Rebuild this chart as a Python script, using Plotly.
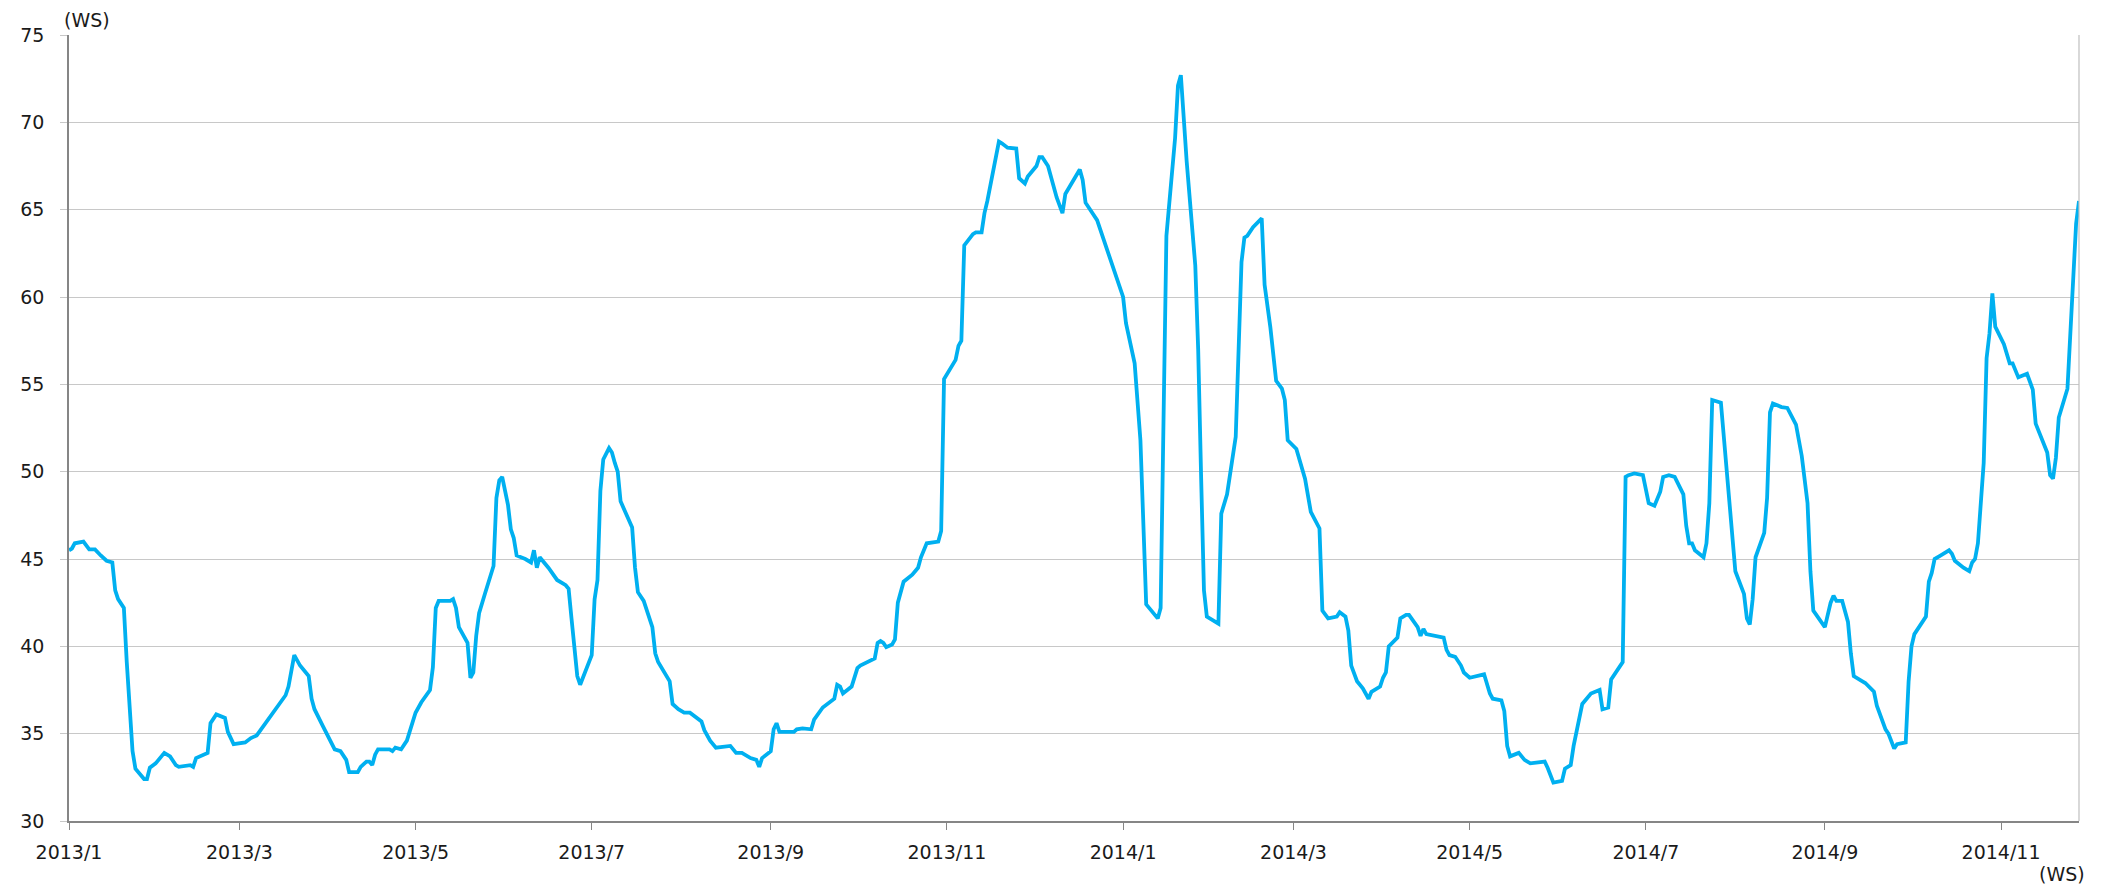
import plotly.graph_objects as go

# ---- data ----
dates_2013 = [
    "2013-01-01", "2013-01-02", "2013-01-03", "2013-01-06", "2013-01-08", "2013-01-10", "2013-01-12",
    "2013-01-14", "2013-01-16", "2013-01-17", "2013-01-18", "2013-01-20", "2013-01-21", "2013-01-22",
    "2013-01-23", "2013-01-24", "2013-01-27", "2013-01-28", "2013-01-29", "2013-01-31", "2013-02-01",
    "2013-02-03", "2013-02-05", "2013-02-07", "2013-02-08", "2013-02-11", "2013-02-12", "2013-02-13",
    "2013-02-14", "2013-02-18", "2013-02-19", "2013-02-21", "2013-02-24", "2013-02-25", "2013-02-26",
    "2013-02-27", "2013-03-03", "2013-03-05", "2013-03-07", "2013-03-11", "2013-03-12", "2013-03-14",
    "2013-03-17", "2013-03-18", "2013-03-20", "2013-03-22", "2013-03-25", "2013-03-26", "2013-03-27",
    "2013-03-30", "2013-04-02", "2013-04-03", "2013-04-05", "2013-04-07", "2013-04-08", "2013-04-11",
    "2013-04-12", "2013-04-14", "2013-04-15", "2013-04-16", "2013-04-17", "2013-04-18", "2013-04-22",
    "2013-04-23", "2013-04-24", "2013-04-26", "2013-04-28", "2013-04-30", "2013-05-01", "2013-05-03",
    "2013-05-06", "2013-05-07", "2013-05-08", "2013-05-09", "2013-05-13", "2013-05-14", "2013-05-15",
    "2013-05-16", "2013-05-19", "2013-05-20", "2013-05-21", "2013-05-22", "2013-05-23", "2013-05-25",
    "2013-05-28", "2013-05-29", "2013-05-30", "2013-05-31", "2013-06-02", "2013-06-03", "2013-06-04",
    "2013-06-05", "2013-06-08", "2013-06-10", "2013-06-11", "2013-06-12", "2013-06-13", "2013-06-16",
    "2013-06-18", "2013-06-19", "2013-06-22", "2013-06-23", "2013-06-24", "2013-06-26", "2013-06-27",
    "2013-07-01", "2013-07-02", "2013-07-03", "2013-07-04", "2013-07-05", "2013-07-07", "2013-07-08",
    "2013-07-09", "2013-07-10", "2013-07-11", "2013-07-15", "2013-07-16", "2013-07-17", "2013-07-19",
    "2013-07-22", "2013-07-23", "2013-07-24", "2013-07-28", "2013-07-29", "2013-07-31", "2013-08-02",
    "2013-08-04", "2013-08-06", "2013-08-08", "2013-08-09", "2013-08-11", "2013-08-13", "2013-08-18",
    "2013-08-19", "2013-08-20", "2013-08-22", "2013-08-25", "2013-08-27", "2013-08-28", "2013-08-29",
    "2013-09-01", "2013-09-02", "2013-09-03", "2013-09-04", "2013-09-09", "2013-09-10", "2013-09-12",
    "2013-09-15", "2013-09-16", "2013-09-19", "2013-09-23", "2013-09-24", "2013-09-25", "2013-09-26",
    "2013-09-29", "2013-10-01", "2013-10-02", "2013-10-07", "2013-10-08", "2013-10-09", "2013-10-10",
    "2013-10-11", "2013-10-13", "2013-10-14", "2013-10-15", "2013-10-17", "2013-10-20", "2013-10-22",
    "2013-10-23", "2013-10-25", "2013-10-29", "2013-10-30", "2013-10-31", "2013-11-04", "2013-11-05",
    "2013-11-06", "2013-11-07", "2013-11-10", "2013-11-11", "2013-11-13", "2013-11-14", "2013-11-15",
    "2013-11-19", "2013-11-20", "2013-11-22", "2013-11-25", "2013-11-26", "2013-11-28", "2013-11-29",
    "2013-12-02", "2013-12-03", "2013-12-04", "2013-12-06", "2013-12-09", "2013-12-11", "2013-12-12",
    "2013-12-15", "2013-12-17", "2013-12-18", "2013-12-19", "2013-12-23",
]
ws_2013 = [
    45.5, 45.6, 45.9, 46.0, 45.55, 45.55, 45.2,
    44.9, 44.8, 43.2, 42.7, 42.2, 39.1, 36.5,
    34.0, 33.0, 32.4, 32.4, 33.05, 33.3, 33.5,
    33.9, 33.7, 33.2, 33.1, 33.2, 33.2, 33.1,
    33.6, 33.9, 35.6, 36.1, 35.9, 35.1, 34.8,
    34.4, 34.5, 34.75, 34.9, 35.8, 36.1, 36.5,
    37.2, 37.7, 39.5, 38.9, 38.3, 37.0, 36.4,
    35.4, 34.4, 34.1, 34.0, 33.5, 32.8, 32.8,
    33.1, 33.4, 33.4, 33.2, 33.8, 34.1, 34.1,
    34.0, 34.2, 34.1, 34.6, 35.6, 36.2, 36.8,
    37.5, 38.8, 42.2, 42.6, 42.6, 42.7, 42.2,
    41.1, 40.2, 38.2, 38.5, 40.6, 41.9, 43.0,
    44.6, 48.5, 49.5, 49.7, 48.1, 46.7, 46.2,
    45.2, 45.0, 44.8, 45.5, 44.5, 45.1, 44.5,
    44.0, 43.8, 43.5, 43.3, 41.6, 38.3, 37.8,
    39.5, 42.7, 43.8, 48.9, 50.7, 51.35, 51.1,
    50.5, 50.0, 48.3, 46.8, 44.5, 43.1, 42.6,
    41.1, 39.6, 39.1, 38.0, 36.7, 36.4, 36.2,
    36.2, 35.96, 35.7, 35.2, 34.6, 34.2, 34.3,
    34.1, 33.9, 33.9, 33.6, 33.5, 33.1, 33.6,
    34.0, 35.25, 35.6, 35.1, 35.1, 35.25, 35.3,
    35.25, 35.8, 36.5, 37.0, 37.8, 37.7, 37.3,
    37.7, 38.75, 38.9, 39.3, 40.2, 40.3, 40.2,
    39.95, 40.1, 40.4, 42.5, 43.7, 44.1, 44.5,
    45.1, 45.9, 46.0, 46.6, 55.3, 56.4, 57.2,
    57.5, 62.95, 63.6, 63.7, 63.7, 64.8, 65.5,
    68.9, 68.8, 68.55, 68.5, 66.8, 66.5, 66.9,
    67.5, 68.0, 68.0, 67.5, 65.7, 64.8, 65.9,
    66.7, 67.3, 66.7, 65.4, 64.4,
]

dates_2014 = [
    "2014-01-01", "2014-01-02", "2014-01-05", "2014-01-07", "2014-01-08", "2014-01-09", "2014-01-13",
    "2014-01-14", "2014-01-15", "2014-01-16", "2014-01-19", "2014-01-20", "2014-01-21", "2014-01-23",
    "2014-01-26", "2014-01-27", "2014-01-28", "2014-01-29", "2014-01-30", "2014-02-03", "2014-02-04",
    "2014-02-06", "2014-02-09", "2014-02-11", "2014-02-12", "2014-02-13", "2014-02-15", "2014-02-18",
    "2014-02-19", "2014-02-21", "2014-02-23", "2014-02-25", "2014-02-26", "2014-02-27", "2014-03-02",
    "2014-03-05", "2014-03-07", "2014-03-10", "2014-03-11", "2014-03-13", "2014-03-16", "2014-03-17",
    "2014-03-19", "2014-03-20", "2014-03-21", "2014-03-23", "2014-03-25", "2014-03-27", "2014-03-28",
    "2014-03-31", "2014-04-01", "2014-04-02", "2014-04-03", "2014-04-06", "2014-04-07", "2014-04-09",
    "2014-04-10", "2014-04-13", "2014-04-14", "2014-04-15", "2014-04-16", "2014-04-22", "2014-04-23",
    "2014-04-24", "2014-04-26", "2014-04-28", "2014-04-29", "2014-05-01", "2014-05-06", "2014-05-08",
    "2014-05-09", "2014-05-12", "2014-05-13", "2014-05-14", "2014-05-15", "2014-05-18", "2014-05-20",
    "2014-05-22", "2014-05-27", "2014-05-28", "2014-05-30", "2014-06-02", "2014-06-03", "2014-06-05",
    "2014-06-06", "2014-06-08", "2014-06-09", "2014-06-12", "2014-06-15", "2014-06-16", "2014-06-18",
    "2014-06-19", "2014-06-23", "2014-06-24", "2014-06-25", "2014-06-27", "2014-06-30", "2014-07-01",
    "2014-07-02", "2014-07-04", "2014-07-06", "2014-07-07", "2014-07-09", "2014-07-11", "2014-07-14",
    "2014-07-15", "2014-07-16", "2014-07-17", "2014-07-18", "2014-07-21", "2014-07-22", "2014-07-23",
    "2014-07-24", "2014-07-27", "2014-07-29", "2014-07-31", "2014-08-01", "2014-08-04", "2014-08-05",
    "2014-08-06", "2014-08-07", "2014-08-08", "2014-08-11", "2014-08-12", "2014-08-13", "2014-08-14",
    "2014-08-17", "2014-08-19", "2014-08-22", "2014-08-24", "2014-08-26", "2014-08-27", "2014-08-28",
    "2014-09-01", "2014-09-03", "2014-09-04", "2014-09-05", "2014-09-07", "2014-09-09", "2014-09-10",
    "2014-09-11", "2014-09-14", "2014-09-15", "2014-09-18", "2014-09-19", "2014-09-22", "2014-09-23",
    "2014-09-25", "2014-09-26", "2014-09-29", "2014-09-30", "2014-10-01", "2014-10-02", "2014-10-06",
    "2014-10-07", "2014-10-08", "2014-10-09", "2014-10-11", "2014-10-14", "2014-10-15", "2014-10-16",
    "2014-10-19", "2014-10-21", "2014-10-22", "2014-10-23", "2014-10-24", "2014-10-26", "2014-10-27",
    "2014-10-28", "2014-10-29", "2014-10-30", "2014-11-02", "2014-11-04", "2014-11-05", "2014-11-07",
    "2014-11-10", "2014-11-12", "2014-11-13", "2014-11-17", "2014-11-18", "2014-11-19", "2014-11-20",
    "2014-11-21", "2014-11-24", "2014-11-25", "2014-11-26", "2014-11-27", "2014-11-28",
]
ws_2014 = [
    60.0, 58.5, 56.2, 51.8, 46.5, 42.4, 41.6,
    42.2, 53.0, 63.5, 69.1, 72.1, 72.7, 67.8,
    61.8, 57.0, 49.8, 43.2, 41.7, 41.3, 47.6,
    48.7, 52.0, 62.0, 63.4, 63.5, 64.0, 64.5,
    60.7, 58.25, 55.2, 54.75, 54.1, 51.8, 51.3,
    49.6, 47.7, 46.75, 42.05, 41.6, 41.7, 41.95,
    41.7, 40.9, 38.9, 38.0, 37.6, 37.0, 37.4,
    37.7, 38.2, 38.5, 40.0, 40.5, 41.6, 41.8,
    41.8, 41.1, 40.6, 41.0, 40.7, 40.5, 39.8,
    39.5, 39.4, 38.9, 38.5, 38.2, 38.4, 37.3,
    37.0, 36.9, 36.3, 34.3, 33.7, 33.9, 33.5,
    33.3, 33.4, 33.05, 32.2, 32.3, 33.0, 33.2,
    34.3, 35.8, 36.7, 37.3, 37.5, 36.4, 36.5,
    38.1, 39.1, 49.7, 49.8, 49.9, 49.8, 49.0,
    48.2, 48.05, 48.85, 49.7, 49.8, 49.7, 48.7,
    46.9, 45.9, 45.9, 45.5, 45.1, 45.9, 48.2,
    54.1, 53.95, 50.2, 46.6, 44.3, 43.0, 41.6,
    41.25, 42.7, 45.1, 46.5, 48.5, 53.4, 53.9,
    53.7, 53.65, 52.7, 50.9, 48.2, 44.3, 42.05,
    41.1, 42.5, 42.9, 42.6, 42.6, 41.4, 39.6,
    38.3, 38.0, 37.9, 37.4, 36.6, 35.25, 35.0,
    34.15, 34.4, 34.5, 38.0, 40.0, 40.7, 41.7,
    43.7, 44.2, 45.0, 45.2, 45.5, 45.3, 44.9,
    44.5, 44.3, 44.8, 45.0, 45.9, 50.5, 56.5,
    57.9, 60.2, 58.3, 57.3, 56.2, 56.2, 55.4,
    55.6, 54.7, 52.75, 51.1, 49.8, 49.6, 50.8,
    53.1, 54.75, 57.8, 61.8, 64.2, 65.5,
]

tick_dates = ["2013-01-01", "2013-03-01", "2013-05-01", "2013-07-01", "2013-09-01", "2013-11-01",
              "2014-01-01", "2014-03-01", "2014-05-01", "2014-07-01", "2014-09-01", "2014-11-01"]
tick_labels = ["2013/1", "2013/3", "2013/5", "2013/7", "2013/9", "2013/11",
               "2014/1", "2014/3", "2014/5", "2014/7", "2014/9", "2014/11"]
y_ticks = [30, 35, 40, 45, 50, 55, 60, 65, 70, 75]
y_unit_label = "(WS)"
x_unit_label = "(WS)"

dates = dates_2013 + dates_2014
values = ws_2013 + ws_2014

FONT = "DejaVu Sans"
FS = 19
LINE_BLUE = "#00B0F0"
GRID = "#C8C8C8"
AXIS = "#868686"
TXT = "#1a1a1a"

fig = go.Figure()
fig.add_trace(go.Scatter(
    x=dates, y=values, mode="lines",
    line=dict(color=LINE_BLUE, width=3.8),
    showlegend=False, hoverinfo="x+y",
))

# the page body has an 8px margin: the figure starts at (8, 8)
fig.update_layout(
    width=2099, height=879,
    margin=dict(l=51, r=28, t=27, b=66),
    paper_bgcolor="white", plot_bgcolor="white",
    font=dict(family=FONT, size=FS, color=TXT),
    xaxis=dict(
        type="date",
        range=[dates[0], dates[-1]],
        tickvals=tick_dates, ticktext=tick_labels,
        showgrid=False, zeroline=False,
        showline=True, linecolor=AXIS, linewidth=1.5,
        ticks="outside", ticklen=7, tickcolor=AXIS, tickwidth=1,
        tickfont=dict(family=FONT, size=FS, color=TXT),
        ticklabelstandoff=6,
    ),
    yaxis=dict(
        range=[30, 75],
        tickvals=y_ticks,
        showgrid=True, gridcolor=GRID, gridwidth=1,
        zeroline=False,
        showline=True, linecolor=AXIS, linewidth=1.5,
        ticks="outside", ticklen=7, tickcolor=GRID, tickwidth=1,
        tickfont=dict(family=FONT, size=FS, color=TXT),
        ticklabelstandoff=12,
    ),
    shapes=[dict(type="line", xref="paper", yref="paper", x0=1, x1=1, y0=0, y1=1,
                 line=dict(color="#BFBFBF", width=1.2))],
    annotations=[
        dict(text=y_unit_label, xref="paper", yref="paper", x=0.0089, y=1.0, yshift=15,
             xanchor="center", yanchor="middle", showarrow=False,
             font=dict(family=FONT, size=FS, color=TXT)),
        dict(text=x_unit_label, xref="paper", yref="paper", x=0.9916, y=0, yshift=-53,
             xanchor="center", yanchor="middle", showarrow=False,
             font=dict(family=FONT, size=FS, color=TXT)),
    ],
)

fig.write_html("out.html")
